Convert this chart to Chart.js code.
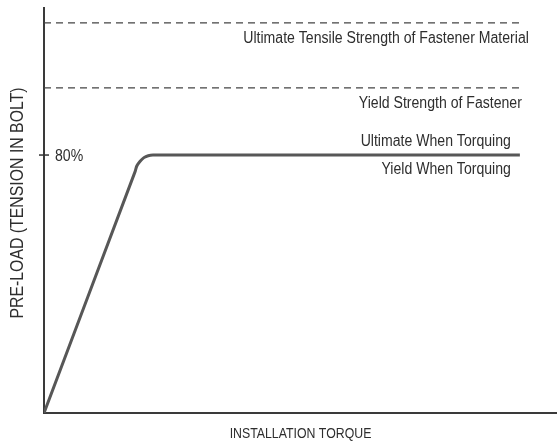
<!DOCTYPE html>
<html><head><meta charset="utf-8">
<script src="https://cdn.jsdelivr.net/npm/chart.js@4/dist/chart.umd.min.js"></script>
<style>html,body{margin:0;padding:0;background:#fff}#wrap{width:557px;height:442px}</style>
</head><body><div id="wrap"><canvas id="c"></canvas></div>
<script>
// Torque curve (x = installation torque %, y = preload %)
const torqueX = [0, 19.1, 19.5, 20.2, 21.0, 21.9, 22.9, 100];
const preloadY = [0, 74.7, 76.6, 78.1, 79.2, 79.8, 80, 80];
// Reference levels (dashed)
const levelNames = ["Ultimate Tensile Strength of Fastener Material", "Yield Strength of Fastener"];
const levelValues = [121, 100.8];
// Y axis tick
const tickValues = [80];
const tickLabels = ["80%"];
// Labels around the torquing plateau
const torquingLabels = ["Ultimate When Torquing", "Yield When Torquing"];
const xTitle = "INSTALLATION TORQUE";
const yTitle = "PRE-LOAD (TENSION IN BOLT)";

const FONT = "'Liberation Sans', Arial, sans-serif";
const TXT = '#2e2e2e';
const SQ = 0.88; // horizontal condensing

function txt(ctx, s, x, y, align, size, rot, base) {
  ctx.save();
  ctx.translate(x, y);
  if (rot) ctx.rotate(rot);
  ctx.scale(SQ, 1);
  ctx.font = size + 'px ' + FONT;
  ctx.textAlign = align;
  ctx.textBaseline = base || 'alphabetic';
  ctx.fillText(s, 0, 0);
  ctx.restore();
}

const datasets = [{
  data: torqueX.map((x, i) => ({x, y: preloadY[i]})),
  borderColor: '#575757', borderWidth: 3, pointRadius: 0, tension: 0.3, borderJoinStyle: 'round'
}];
levelValues.forEach(v => datasets.push({
  data: [{x: 0, y: v}, {x: 100.3, y: v}],
  borderColor: '#444', borderWidth: 1.3, borderDash: [7, 5], pointRadius: 0
}));

const textPlugin = {
  id: 'texts',
  afterDraw(chart) {
    const ctx = chart.ctx, xs = chart.scales.x, ys = chart.scales.y, a = chart.chartArea;
    ctx.save();
    ctx.fillStyle = TXT;
    ctx.strokeStyle = '#333'; ctx.lineWidth = 1.5;
    tickValues.forEach((v, i) => {
      const y = ys.getPixelForValue(v);
      ctx.beginPath(); ctx.moveTo(a.left - 5, y); ctx.lineTo(a.left + 5, y); ctx.stroke();
      txt(ctx, tickLabels[i], a.left + 11, y + 6, 'left', 16);
    });
    const r = xs.getPixelForValue(100);
    txt(ctx, levelNames[0], r + 9, ys.getPixelForValue(levelValues[0]) + 20.5, 'right', 16);
    txt(ctx, levelNames[1], r + 2, ys.getPixelForValue(levelValues[1]) + 20, 'right', 16);
    const y80 = ys.getPixelForValue(80);
    txt(ctx, torquingLabels[0], r - 9, y80 - 9, 'right', 16);
    txt(ctx, torquingLabels[1], r - 9, y80 + 19, 'right', 16);
    // axis titles
    txt(ctx, xTitle, (a.left + a.right) / 2, 438, 'center', 14);
    txt(ctx, yTitle, 18, 203, 'center', 18, -Math.PI / 2, 'middle');
    ctx.restore();
  }
};

new Chart(document.getElementById('c'), {
  type: 'line',
  data: {datasets},
  options: {
    responsive: true, maintainAspectRatio: false, animation: false,
    layout: {padding: {top: 8, right: 0, left: 0, bottom: 0}},
    plugins: {legend: {display: false}, tooltip: {enabled: false}},
    scales: {
      x: {
        type: 'linear', min: 0, max: 107.8,
        grid: {display: false, drawTicks: false},
        border: {color: '#3a3a3a', width: 2},
        ticks: {display: false},
        afterFit(s) { s.height = 29; }
      },
      y: {
        type: 'linear', min: 0, max: 125.6,
        grid: {display: false, drawTicks: false},
        border: {color: '#3a3a3a', width: 2},
        ticks: {display: false},
        afterFit(s) { s.width = 44; }
      }
    }
  },
  plugins: [textPlugin]
});
</script></body></html>
